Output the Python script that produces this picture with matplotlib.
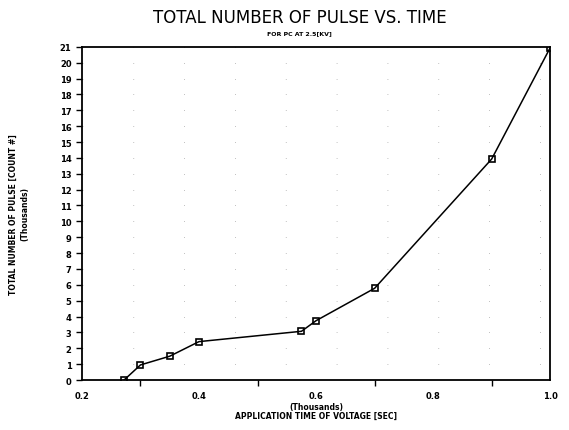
import matplotlib
matplotlib.use("Agg")
import matplotlib.pyplot as plt
from matplotlib.ticker import MultipleLocator, FormatStrFormatter

# application time (thousands of sec) and pulse count (thousands)
time_k = [0.272, 0.30, 0.35, 0.40, 0.575, 0.60, 0.70, 0.90, 1.00]
pulses_k = [0.0, 0.95, 1.5, 2.42, 3.07, 3.74, 5.78, 13.93, 20.95]

title = "TOTAL NUMBER OF PULSE VS. TIME"
subtitle = "FOR PC AT 2.5[KV]"
ylabel = "TOTAL NUMBER OF PULSE [COUNT #]\n(Thousands)"
xlabel = "(Thousands)\nAPPLICATION TIME OF VOLTAGE [SEC]"

plt.rcParams['font.family'] = ['DejaVu Sans']

fig = plt.figure(figsize=(5.69, 4.31), dpi=100)
ax = fig.add_axes([0.144, 0.116, 0.823, 0.773])

ax.plot(time_k, pulses_k, color='black', lw=1.1, marker='s', ms=5,
        mfc='none', mec='black', mew=1.2, zorder=3)

ax.set_xlim(0.2, 1.0)
ax.set_ylim(0, 21)
ax.xaxis.set_major_locator(MultipleLocator(0.2))
ax.xaxis.set_minor_locator(MultipleLocator(0.1))
ax.xaxis.set_major_formatter(FormatStrFormatter('%.1f'))
ax.yaxis.set_major_locator(MultipleLocator(1))
ax.tick_params(axis='both', which='both', direction='out', length=4,
               width=1, labelsize=6)
ax.tick_params(axis='x', which='major', length=0, pad=8)
for lbl in ax.get_xticklabels() + ax.get_yticklabels():
    lbl.set_fontweight('bold')

# sparse dotted grid, like the faint dots of the original
ax.grid(True, which='major', axis='y', color='#aaaaaa', lw=0.6,
        linestyle=(0, (1, 60)))
for s in ax.spines.values():
    s.set_linewidth(1.3)

fig.text(0.527, 0.958, title, ha='center', va='center', fontsize=12,
         fontweight='normal', color='black')
fig.text(0.527, 0.923, subtitle, ha='center', va='center', fontsize=4.5,
         fontweight='bold')
ax.set_ylabel(ylabel, fontsize=5.5, fontweight='bold', labelpad=22,
              linespacing=1.3)
ax.set_xlabel(xlabel, fontsize=5.5, fontweight='bold', labelpad=1,
              linespacing=1.1)

fig.savefig("out.png", dpi=100)
